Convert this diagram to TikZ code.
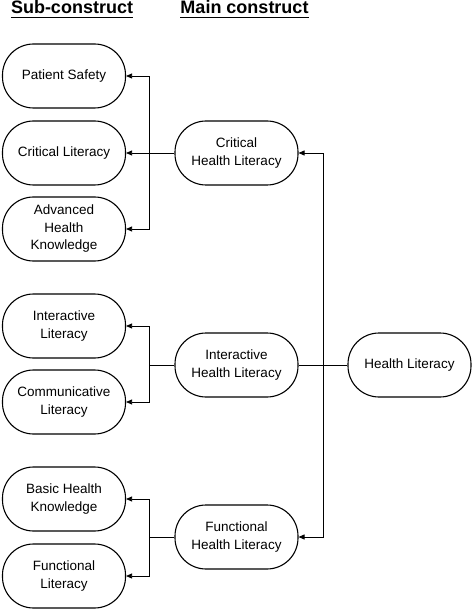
\documentclass[tikz,border=0pt]{standalone}
\usepackage{fontspec}
\setmainfont{Liberation Sans}
\usetikzlibrary{arrows.meta}
\tikzset{
  box/.style={draw, line width=1.1pt, rounded corners=31pt, minimum width=123pt,
    minimum height=64pt, align=center, font=\fontsize{13.5}{17.5}\selectfont},
  arr/.style={-{Triangle[length=6pt,width=5pt]}, line width=0.8pt},
  con/.style={line width=0.8pt},
  head/.style={font=\fontsize{18}{20}\bfseries\selectfont, inner sep=0pt, anchor=base}
}
\begin{document}
\begin{tikzpicture}[x=1pt,y=-1pt]
\useasboundingbox (0,0) rectangle (473,609);
% headings
\node[head] (sub) at (72,14) {Sub-construct};
\node[head] (main) at (244.5,14) {Main construct};
\draw[line width=1.2pt] ([yshift=-3.5pt]sub.base west) -- ([yshift=-3.5pt]sub.base east);
\draw[line width=1.2pt] ([yshift=-3.5pt]main.base west) -- ([yshift=-3.5pt]main.base east);
% sub-constructs
\node[box] (ps) at (64,76) {Patient Safety};
\node[box] (cl) at (64,153) {Critical Literacy};
\node[box] (ahk) at (64,229) {Advanced\\Health\\Knowledge};
\node[box] (il) at (64,326) {Interactive\\Literacy};
\node[box] (col) at (64,402) {Communicative\\Literacy};
\node[box] (bhk) at (64,499) {Basic Health\\Knowledge};
\node[box] (fl) at (64,576) {Functional\\Literacy};
% main constructs
\node[box] (chl) at (236.5,153) {Critical\\Health Literacy};
\node[box] (ihl) at (236.5,365) {Interactive\\Health Literacy};
\node[box] (fhl) at (236.5,537) {Functional\\Health Literacy};
\node[box] (hl) at (409.5,365) {Health Literacy};
% buses
\coordinate (cbus) at (149,153);
\coordinate (ibus) at (149,365);
\coordinate (fbus) at (149,537);
\coordinate (hbus) at (323,365);
% critical
\draw[con] (chl.west) -- (cbus);
\draw[arr] (cbus) |- (ps.east);
\draw[arr] (cbus) -- (cl.east);
\draw[arr] (cbus) |- (ahk.east);
% interactive
\draw[con] (ihl.west) -- (ibus);
\draw[arr] (ibus) |- (il.east);
\draw[arr] (ibus) |- (col.east);
% functional
\draw[con] (fhl.west) -- (fbus);
\draw[arr] (fbus) |- (bhk.east);
\draw[arr] (fbus) |- (fl.east);
% health literacy
\draw[con] (ihl.east) -- (hl.west);
\draw[arr] (hbus) |- (chl.east);
\draw[arr] (hbus) |- (fhl.east);
\end{tikzpicture}
\end{document}
